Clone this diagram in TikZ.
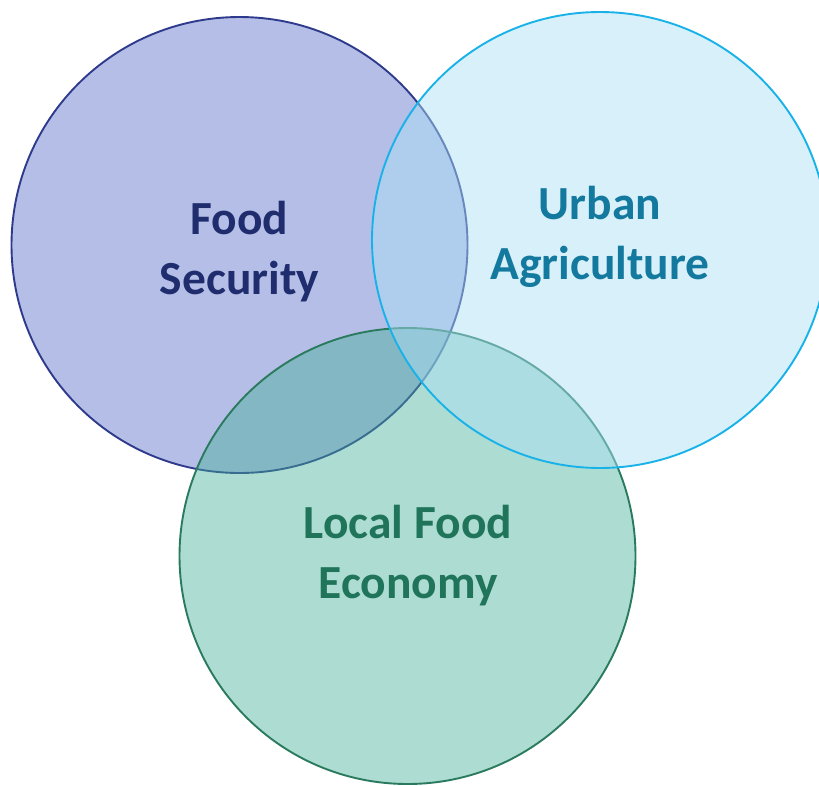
\documentclass[tikz,border=0pt]{standalone}
\usepackage{fontspec}
\setmainfont{Carlito}
\definecolor{secfill}{RGB}{181,190,230}
\definecolor{secline}{RGB}{46,58,140}
\definecolor{sectext}{RGB}{31,45,110}
\definecolor{urbfill}{RGB}{170,223,245}
\definecolor{urbline}{RGB}{25,178,232}
\definecolor{urbtext}{RGB}{20,121,158}
\definecolor{ecofill}{RGB}{68,175,152}
\definecolor{ecoline}{RGB}{42,122,94}
\definecolor{ecotext}{RGB}{32,116,90}
\tikzset{
  ring/.style={line width=1.9pt},
  label/.style={align=center,font=\fontsize{47.5}{59.5}\selectfont\bfseries}
}
\begin{document}
\begin{tikzpicture}[x=1pt,y=-1pt]
        \useasboundingbox (0,0) rectangle (819,785);
        %% Circles
        \draw[ring,draw=secline,fill=secfill] (239.5,245) circle (228pt);
        \draw[ring,draw=ecoline,fill=ecofill,fill opacity=0.44] (407.5,556) circle (228pt);
        \draw[ring,draw=urbline,fill=urbfill,fill opacity=0.47] (600,240) circle (228pt);
        %% Labels
        \node[label,text=sectext] (security) at (239.5,251.5) {Food\\Security};
        \node[label,text=urbtext] (urban) at (600,237) {Urban\\Agriculture};
        \node[label,text=ecotext] (economy) at (408,555.5) {Local Food\\Economy};
\end{tikzpicture}
\end{document}
